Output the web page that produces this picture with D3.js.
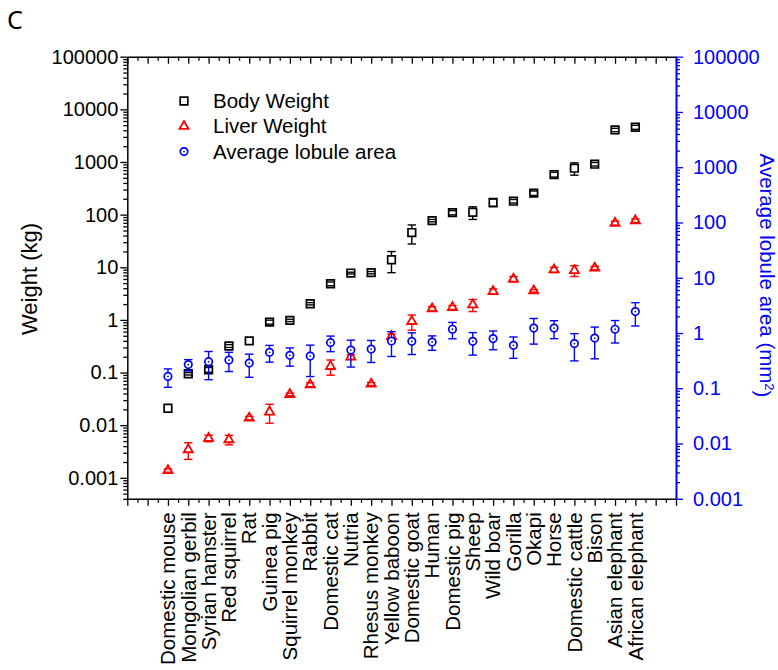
<!DOCTYPE html>
<html>
<head>
<meta charset="utf-8">
<script src="https://cdn.jsdelivr.net/npm/d3@7"></script>
<style>
  body { margin: 0; background: #fff; }
  svg { display: block; font-family: "Liberation Sans", Arial, sans-serif; }
</style>
</head>
<body>
<svg id="chart" width="778" height="670"></svg>
<script>
// ---- data -------------------------------------------------------------
const species = [
  "Domestic mouse", "Mongolian gerbil", "Syrian hamster", "Red squirrel", "Rat",
  "Guinea pig", "Squirrel monkey", "Rabbit", "Domestic cat", "Nutria",
  "Rhesus monkey", "Yellow baboon", "Domestic goat", "Human", "Domestic pig",
  "Sheep", "Wild boar", "Gorilla", "Okapi", "Horse", "Domestic cattle",
  "Bison", "Asian elephant", "African elephant"
];

// body weight (kg), mean and SD
const bodyWeight   = [0.021, 0.095, 0.113, 0.32, 0.40, 0.91, 0.98, 2.03, 4.86, 7.76,
                      7.9, 13.9, 45.7, 77, 109, 111, 170, 180, 256, 577, 762, 908, 4060, 4570];
const bodyWeightSD = [0, 0.005, 0.012, 0.02, 0, 0.08, 0.05, 0.1, 0.4, 0.3,
                      0.4, 6, 18, 4, 10, 30, 28, 14, 25, 60, 200, 70, 300, 400];

// liver weight (kg), mean and SD
const liverWeight   = [0.00138, 0.00344, 0.00565, 0.00533, 0.0137, 0.0179, 0.0385, 0.0589, 0.131, 0.198,
                       0.0608, 0.486, 0.938, 1.63, 1.73, 1.94, 3.48, 5.97, 3.58, 8.96, 8.69, 9.66, 69, 77];
const liverWeightSD = [0.0001, 0.0012, 0.0008, 0.0011, 0.001, 0.007, 0.002, 0.005, 0.042, 0.02,
                       0.004, 0.05, 0.3, 0.15, 0.15, 0.5, 0.4, 0.7, 0.2, 1.0, 2.0, 0.7, 6, 6];

// average lobule area (mm^2), mean and SD
const lobuleArea   = [0.164, 0.268, 0.303, 0.324, 0.286, 0.447, 0.394, 0.383, 0.67, 0.492,
                      0.513, 0.716, 0.708, 0.687, 1.17, 0.708, 0.793, 0.598, 1.23, 1.23, 0.643, 0.811, 1.17, 2.44];
const lobuleAreaSD = [0.06, 0.062, 0.16, 0.123, 0.128, 0.15, 0.143, 0.22, 0.21, 0.25,
                      0.22, 0.34, 0.3, 0.2, 0.385, 0.31, 0.295, 0.25, 0.6, 0.44, 0.33, 0.47, 0.51, 1.1];

const weightTicks      = [0.001, 0.01, 0.1, 1, 10, 100, 1000, 10000, 100000];
const weightTickLabels = ["0.001", "0.01", "0.1", "1", "10", "100", "1000", "10000", "100000"];
const areaTicks        = [0.001, 0.01, 0.1, 1, 10, 100, 1000, 10000, 100000];
const areaTickLabels   = ["0.001", "0.01", "0.1", "1", "10", "100", "1000", "10000", "100000"];

const seriesNames = ["Body Weight", "Liver Weight", "Average lobule area"];

// ---- layout -----------------------------------------------------------
const plot = { left: 127.3, right: 676, top: 56.7, bottom: 498.8 };
const BLUE = "#0000ff", RED = "#ff0000", BLACK = "#000000";

const svg = d3.select("#chart");

const x  = d3.scaleLinear().domain([-2, 25]).range([plot.left, plot.right]);
const yW = d3.scaleLog().domain([0.0004, 100000]).range([plot.bottom, plot.top]);
const yA = d3.scaleLog().domain([0.001, 100000]).range([plot.bottom, plot.top]);

function logMinors(domain) {
  const out = [];
  for (let k = -5; k <= 5; k++) {
    for (let m = 2; m <= 9; m++) {
      const v = m * Math.pow(10, k);
      if (v >= domain[0] * 0.999 && v <= domain[1] * 1.001) out.push(v);
    }
  }
  return out;
}

function styleAxis(g, color, width) {
  g.selectAll("path.domain").attr("stroke", color).attr("stroke-width", width || 1.5);
  g.selectAll(".tick line").attr("stroke", color).attr("stroke-width", 1.3);
  g.selectAll(".tick text").attr("fill", color);
  g.attr("font-family", null).attr("font-size", null);
}

const MAJ = 7, MIN = 4;
const xMajors = d3.range(-2, 26, 1);
const xMinors = d3.range(-1.5, 25, 1);

// top frame line with inward ticks
const topAxis = svg.append("g").attr("transform", `translate(0,${plot.top})`);
topAxis.call(d3.axisBottom(x).tickValues(xMajors).tickFormat("").tickSize(MAJ).tickSizeOuter(0));
styleAxis(topAxis, BLACK);
const topMinor = svg.append("g").attr("transform", `translate(0,${plot.top})`);
topMinor.call(d3.axisBottom(x).tickValues(xMinors).tickFormat("").tickSize(MIN).tickSizeOuter(0));
topMinor.select("path.domain").remove();
styleAxis(topMinor, BLACK);

// bottom axis with species names
const bottomAxis = svg.append("g").attr("transform", `translate(0,${plot.bottom})`);
bottomAxis.call(d3.axisBottom(x).tickValues(xMajors)
  .tickFormat(d => (d >= 0 && d < species.length) ? species[d] : "")
  .tickSize(MAJ).tickSizeOuter(0));
styleAxis(bottomAxis, BLACK);
bottomAxis.selectAll(".tick text")
  .attr("transform", "rotate(-90)")
  .attr("x", -13.5).attr("y", 0).attr("dy", "0.33em")
  .style("text-anchor", "end")
  .style("font-size", "20.5px");
const bottomMinor = svg.append("g").attr("transform", `translate(0,${plot.bottom})`);
bottomMinor.call(d3.axisBottom(x).tickValues(xMinors).tickFormat("").tickSize(MIN).tickSizeOuter(0));
bottomMinor.select("path.domain").remove();
styleAxis(bottomMinor, BLACK);

// left weight axis
const leftAxis = svg.append("g").attr("transform", `translate(${plot.left},0)`);
leftAxis.call(d3.axisLeft(yW).tickValues(weightTicks)
  .tickFormat((d, i) => weightTickLabels[i]).tickSize(MAJ).tickPadding(2).tickSizeOuter(0));
styleAxis(leftAxis, BLACK);
leftAxis.selectAll(".tick text").style("font-size", "20px");
const leftMinor = svg.append("g").attr("transform", `translate(${plot.left},0)`);
leftMinor.call(d3.axisLeft(yW).tickValues(logMinors(yW.domain())).tickFormat("").tickSize(MIN).tickSizeOuter(0));
leftMinor.select("path.domain").remove();
styleAxis(leftMinor, BLACK);

// right lobule-area axis (blue)
const rightAxis = svg.append("g").attr("transform", `translate(${plot.right},0)`);
rightAxis.call(d3.axisRight(yA).tickValues(areaTicks)
  .tickFormat((d, i) => areaTickLabels[i]).tickSize(MAJ).tickPadding(10).tickSizeOuter(0));
styleAxis(rightAxis, BLUE, 2);
rightAxis.selectAll(".tick text").style("font-size", "20px");
const rightMinor = svg.append("g").attr("transform", `translate(${plot.right},0)`);
rightMinor.call(d3.axisRight(yA).tickValues(logMinors(yA.domain())).tickFormat("").tickSize(MIN).tickSizeOuter(0));
rightMinor.select("path.domain").remove();
styleAxis(rightMinor, BLUE);

// axis titles
svg.append("text")
  .attr("transform", `translate(37,279) rotate(-90)`)
  .attr("text-anchor", "middle")
  .style("font-size", "22px")
  .text("Weight (kg)");

const rt = svg.append("text")
  .attr("transform", `translate(759.5,275.5) rotate(90)`)
  .attr("text-anchor", "middle")
  .attr("fill", BLUE)
  .style("font-size", "20.5px");
rt.append("tspan").text("Average lobule area (mm");
rt.append("tspan").attr("dy", "-0.45em").style("font-size", "13px").text("2");
rt.append("tspan").attr("dy", "0.45em").text(")");

// panel letter
svg.append("text")
  .attr("x", 7).attr("y", 29)
  .style("font-family", "'Noto Sans', 'Open Sans', sans-serif")
  .style("font-size", "25px")
  .text("C");

// ---- series -----------------------------------------------------------
const symSquare   = d3.symbol(d3.symbolSquare, 58)();
const symTriangle = d3.symbol(d3.symbolTriangle, 36)();
const symCircle   = d3.symbol(d3.symbolCircle, 44)();

function drawSeries(values, sds, yScale, color, symPath, strokeW, dotted) {
  const data = species.map((s, i) => ({ i, v: values[i], sd: sds[i] }));
  const g = svg.append("g");
  const withErr = data.filter(d => d.sd > 0);
  const cap = 4.2;

  g.selectAll("line.stem").data(withErr).join("line")
    .attr("class", "stem")
    .attr("x1", d => x(d.i)).attr("x2", d => x(d.i))
    .attr("y1", d => yScale(d.v + d.sd)).attr("y2", d => yScale(d.v - d.sd))
    .attr("stroke", color).attr("stroke-width", 1.4);

  g.selectAll("path.mark").data(data).join("path")
    .attr("class", "mark")
    .attr("d", symPath)
    .attr("transform", d => `translate(${x(d.i)},${yScale(d.v)})`)
    .attr("fill", "#fff")
    .attr("stroke", color).attr("stroke-width", strokeW);

  if (dotted) {
    g.selectAll("circle.dot").data(data).join("circle")
      .attr("class", "dot")
      .attr("cx", d => x(d.i)).attr("cy", d => yScale(d.v))
      .attr("r", 0.9).attr("fill", color);
  }

  ["hi", "lo"].forEach(side => {
    g.selectAll("line.cap-" + side).data(withErr).join("line")
      .attr("class", "cap-" + side)
      .attr("x1", d => x(d.i) - cap).attr("x2", d => x(d.i) + cap)
      .attr("y1", d => yScale(side === "hi" ? d.v + d.sd : d.v - d.sd))
      .attr("y2", d => yScale(side === "hi" ? d.v + d.sd : d.v - d.sd))
      .attr("stroke", color).attr("stroke-width", 1.4);
  });
}

drawSeries(bodyWeight, bodyWeightSD, yW, BLACK, symSquare, 1.7, false);
drawSeries(liverWeight, liverWeightSD, yW, RED, symTriangle, 1.8, false);
drawSeries(lobuleArea, lobuleAreaSD, yA, BLUE, symCircle, 1.7, true);

// ---- legend -----------------------------------------------------------
const legend = svg.append("g");
const legendItems = [
  { name: seriesNames[0], color: BLACK, sym: symSquare,   sw: 1.7, dot: false },
  { name: seriesNames[1], color: RED,   sym: symTriangle, sw: 1.8, dot: false },
  { name: seriesNames[2], color: BLUE,  sym: symCircle,   sw: 1.7, dot: true }
];
legendItems.forEach((it, k) => {
  const cy = 101 + k * 25.3;
  legend.append("path").attr("d", it.sym)
    .attr("transform", `translate(184,${cy})`)
    .attr("fill", "#fff").attr("stroke", it.color).attr("stroke-width", it.sw);
  if (it.dot) legend.append("circle").attr("cx", 184).attr("cy", cy).attr("r", 0.9).attr("fill", it.color);
  legend.append("text")
    .attr("x", 213).attr("y", cy).attr("dy", "0.35em")
    .style("font-size", "20.5px")
    .text(it.name);
});
</script>
</body>
</html>
